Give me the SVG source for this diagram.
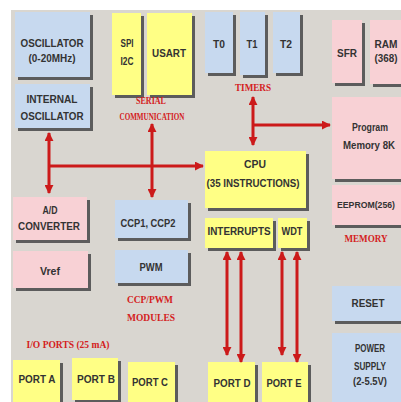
<svg xmlns="http://www.w3.org/2000/svg" width="401" height="402" viewBox="0 0 401 402">
<style>
.bg{fill:#d9d6d0}
.b{fill:#c7d9ef}
.y{fill:#ffff85}
.p{fill:#f8d1d5}
.s{fill:#5c5c5c}
text{font-family:"Liberation Sans",Arial,sans-serif;font-weight:bold;font-size:10.5px;fill:#333333;text-anchor:middle}
text.sm{font-size:9.5px}
text.r{font-family:"Liberation Serif","Times New Roman",serif;fill:#d42020;font-size:10px}
.c line{stroke:#cc1a1a;stroke-width:3;fill:none}
</style>
<defs>
<marker id="ae" viewBox="0 0 10 10" refX="9" refY="5" markerWidth="9" markerHeight="9" markerUnits="userSpaceOnUse" orient="auto"><path d="M0,0L10,5L0,10z" fill="#cc1a1a"/></marker>
<marker id="as" viewBox="0 0 10 10" refX="1" refY="5" markerWidth="9" markerHeight="9" markerUnits="userSpaceOnUse" orient="auto"><path d="M10,0L0,5L10,10z" fill="#cc1a1a"/></marker>
</defs>
<rect width="401" height="402" fill="#ffffff"/>
<rect class="bg" x="11" y="10" width="390" height="392"/>

<g id="oscillator"><rect class="s" x="18" y="15" width="75" height="65"/><rect class="b" x="15" y="12" width="75" height="65"/><text x="52" y="47" textLength="63" lengthAdjust="spacingAndGlyphs">OSCILLATOR</text><text x="52" y="62" textLength="47" lengthAdjust="spacingAndGlyphs">(0-20MHz)</text></g>
<g id="internal-oscillator"><rect class="s" x="18" y="87" width="75" height="44"/><rect class="b" x="15" y="84" width="75" height="44"/><text x="52" y="103" textLength="51" lengthAdjust="spacingAndGlyphs">INTERNAL</text><text x="52" y="120" textLength="63" lengthAdjust="spacingAndGlyphs">OSCILLATOR</text></g>
<g id="spi-i2c"><rect class="s" x="115" y="16" width="29" height="82"/><rect class="y" x="112" y="13" width="29" height="82"/><text x="127" y="47" textLength="13" lengthAdjust="spacingAndGlyphs">SPI</text><text x="127" y="65" textLength="13" lengthAdjust="spacingAndGlyphs">I2C</text></g>
<g id="usart"><rect class="s" x="150" y="16" width="45" height="82"/><rect class="y" x="147" y="13" width="45" height="82"/><text x="169" y="57" textLength="34" lengthAdjust="spacingAndGlyphs">USART</text></g>
<text class="r" x="151" y="104" textLength="30" lengthAdjust="spacingAndGlyphs">SERIAL</text>
<text class="r" x="152" y="120" textLength="65" lengthAdjust="spacingAndGlyphs">COMMUNICATION</text>

<g id="t0"><rect class="s" x="208" y="15" width="28" height="61"/><rect class="b" x="205" y="12" width="28" height="61"/><text x="219" y="48" textLength="12" lengthAdjust="spacingAndGlyphs">T0</text></g>
<g id="t1"><rect class="s" x="243" y="15" width="25" height="63"/><rect class="b" x="240" y="12" width="25" height="63"/><text x="252" y="48" textLength="11" lengthAdjust="spacingAndGlyphs">T1</text></g>
<g id="t2"><rect class="s" x="276" y="15" width="27" height="61"/><rect class="b" x="273" y="12" width="27" height="61"/><text x="286" y="48" textLength="12" lengthAdjust="spacingAndGlyphs">T2</text></g>
<text class="r" x="253" y="91" textLength="36" lengthAdjust="spacingAndGlyphs">TIMERS</text>

<g id="sfr"><rect class="s" x="335" y="23" width="30" height="63"/><rect class="p" x="332" y="20" width="30" height="63"/><text x="347" y="57" textLength="20" lengthAdjust="spacingAndGlyphs">SFR</text></g>
<g id="ram"><rect class="s" x="373" y="23" width="28" height="64"/><rect class="p" x="370" y="20" width="31" height="64"/><text x="386" y="48" textLength="23" lengthAdjust="spacingAndGlyphs">RAM</text><text x="386" y="62" textLength="23" lengthAdjust="spacingAndGlyphs">(368)</text></g>
<g id="program-memory"><rect class="s" x="335" y="100" width="66" height="82"/><rect class="p" x="332" y="97" width="69" height="82"/><text x="370" y="131" textLength="36" lengthAdjust="spacingAndGlyphs">Program</text><text x="369" y="149" textLength="52" lengthAdjust="spacingAndGlyphs">Memory 8K</text></g>
<g id="eeprom"><rect class="s" x="335" y="188" width="66" height="40"/><rect class="p" x="332" y="185" width="69" height="40"/><text class="sm" x="366" y="208" textLength="58" lengthAdjust="spacingAndGlyphs">EEPROM(256)</text></g>
<text class="r" x="366" y="242" textLength="43" lengthAdjust="spacingAndGlyphs">MEMORY</text>

<g id="cpu"><rect class="s" x="208" y="154" width="101" height="57"/><rect class="y" x="205" y="151" width="101" height="57"/><text x="255" y="168" textLength="22" lengthAdjust="spacingAndGlyphs">CPU</text><text x="253" y="187" textLength="93" lengthAdjust="spacingAndGlyphs">(35 INSTRUCTIONS)</text></g>
<g id="interrupts"><rect class="s" x="208" y="221" width="68" height="30"/><rect class="y" x="205" y="218" width="68" height="30"/><text x="239" y="235" textLength="63" lengthAdjust="spacingAndGlyphs">INTERRUPTS</text></g>
<g id="wdt"><rect class="s" x="281" y="221" width="29" height="30"/><rect class="y" x="278" y="218" width="29" height="30"/><text x="292" y="235" textLength="21" lengthAdjust="spacingAndGlyphs">WDT</text></g>

<g id="ad-converter"><rect class="s" x="16" y="200" width="74" height="43"/><rect class="p" x="13" y="197" width="74" height="43"/><text x="50" y="214" textLength="15" lengthAdjust="spacingAndGlyphs">A/D</text><text x="49" y="230" textLength="62" lengthAdjust="spacingAndGlyphs">CONVERTER</text></g>
<g id="vref"><rect class="s" x="16" y="254" width="75" height="37"/><rect class="p" x="13" y="251" width="75" height="37"/><text x="50" y="275" textLength="20" lengthAdjust="spacingAndGlyphs">Vref</text></g>
<g id="ccp"><rect class="s" x="118" y="203" width="73" height="38"/><rect class="b" x="115" y="200" width="73" height="38"/><text x="148" y="227" textLength="55" lengthAdjust="spacingAndGlyphs">CCP1, CCP2</text></g>
<g id="pwm"><rect class="s" x="118" y="253" width="73" height="33"/><rect class="b" x="115" y="250" width="73" height="33"/><text x="151" y="271" textLength="23" lengthAdjust="spacingAndGlyphs">PWM</text></g>
<text class="r" x="150" y="303" textLength="46" lengthAdjust="spacingAndGlyphs">CCP/PWM</text>
<text class="r" x="151" y="321" textLength="48" lengthAdjust="spacingAndGlyphs">MODULES</text>
<text class="r" x="68" y="348" textLength="83" lengthAdjust="spacingAndGlyphs">I/O PORTS (25 mA)</text>

<g id="port-a"><rect class="s" x="16" y="363" width="47" height="39"/><rect class="y" x="13" y="360" width="47" height="42"/><text x="37" y="383" textLength="37" lengthAdjust="spacingAndGlyphs">PORT A</text></g>
<g id="port-b"><rect class="s" x="75" y="361" width="46" height="41"/><rect class="y" x="72" y="358" width="46" height="42"/><text x="96" y="383" textLength="38" lengthAdjust="spacingAndGlyphs">PORT B</text></g>
<g id="port-c"><rect class="s" x="131" y="365" width="47" height="37"/><rect class="y" x="128" y="362" width="47" height="40"/><text x="150" y="386" textLength="36" lengthAdjust="spacingAndGlyphs">PORT C</text></g>
<g id="port-d"><rect class="s" x="211" y="365" width="47" height="37"/><rect class="y" x="208" y="362" width="47" height="40"/><text x="232" y="387" textLength="37" lengthAdjust="spacingAndGlyphs">PORT D</text></g>
<g id="port-e"><rect class="s" x="265" y="365" width="46" height="37"/><rect class="y" x="262" y="362" width="46" height="40"/><text x="284" y="387" textLength="35" lengthAdjust="spacingAndGlyphs">PORT E</text></g>

<g id="reset"><rect class="s" x="335" y="289" width="66" height="35"/><rect class="b" x="332" y="286" width="69" height="35"/><text x="368" y="307" textLength="33" lengthAdjust="spacingAndGlyphs">RESET</text></g>
<g id="power-supply"><rect class="s" x="335" y="336" width="66" height="66"/><rect class="b" x="332" y="333" width="69" height="69"/><text x="370" y="352" textLength="30" lengthAdjust="spacingAndGlyphs">POWER</text><text x="370" y="370" textLength="32" lengthAdjust="spacingAndGlyphs">SUPPLY</text><text x="370" y="385" textLength="34" lengthAdjust="spacingAndGlyphs">(2-5.5V)</text></g>

<g id="connectors" class="c">
<line x1="49" y1="133" x2="49" y2="193" marker-start="url(#as)" marker-end="url(#ae)"/>
<line x1="48" y1="166" x2="203" y2="166" marker-end="url(#ae)"/>
<line x1="152" y1="124" x2="152" y2="197" marker-start="url(#as)" marker-end="url(#ae)"/>
<line x1="253" y1="97" x2="253" y2="145" marker-start="url(#as)" marker-end="url(#ae)"/>
<line x1="252" y1="125" x2="330" y2="125" marker-end="url(#ae)"/>
<line x1="227" y1="252" x2="227" y2="355" marker-start="url(#as)" marker-end="url(#ae)"/>
<line x1="241" y1="252" x2="241" y2="362" marker-start="url(#as)" marker-end="url(#ae)"/>
<line x1="282" y1="252" x2="282" y2="355" marker-start="url(#as)" marker-end="url(#ae)"/>
<line x1="297" y1="252" x2="297" y2="362" marker-start="url(#as)" marker-end="url(#ae)"/>
</g>
</svg>
